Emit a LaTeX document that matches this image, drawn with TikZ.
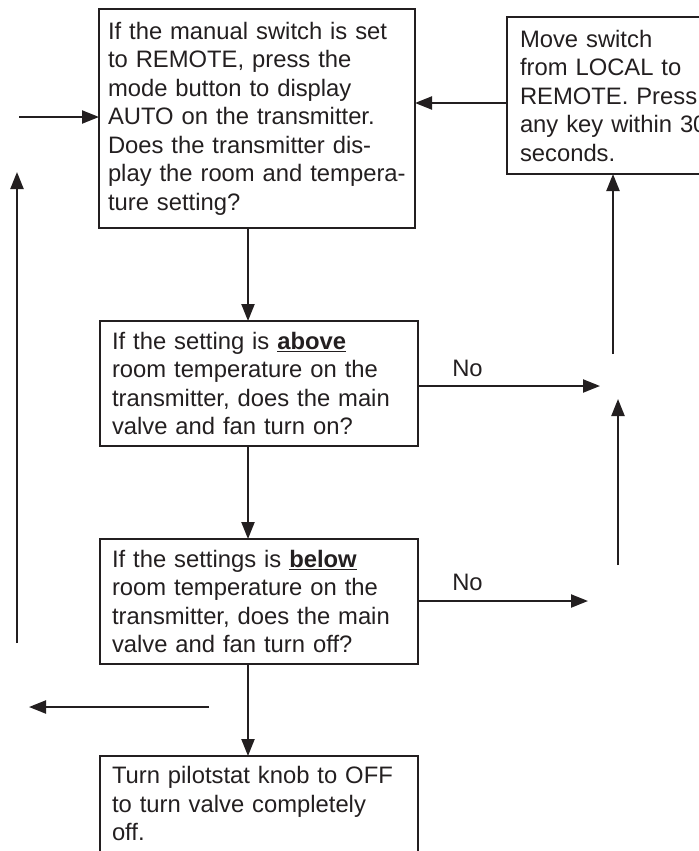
\documentclass[tikz,border=0pt]{standalone}
\usepackage{fontspec}
\setmainfont{Liberation Sans}
\usetikzlibrary{arrows.meta}
\definecolor{ink}{RGB}{35,31,32}
\begin{document}
\begin{tikzpicture}[x=1bp,y=-1bp,
  box/.style={draw=ink, line width=2.5bp, outer sep=0pt, align=left, anchor=north west,
    font=\fontsize{23.8bp}{28.5bp}\selectfont, text=ink},
  arr/.style={draw=ink, line width=2.2bp, -{Triangle[length=17bp,width=13bp]}},
  lbl/.style={font=\fontsize{23.8bp}{28.5bp}\selectfont, text=ink, anchor=base, inner sep=0pt}]
\useasboundingbox (0,0) rectangle (699,851);
\clip (0,0) rectangle (699,851);

\node[box, text width=298bp, inner xsep=9bp, minimum height=219bp] (b1) at (99,9)
  {\mbox{If the manual switch is set}\\\mbox{to REMOTE, press the}\\\mbox{mode button to display}\\\mbox{AUTO on the transmitter.}\\\mbox{Does the transmitter dis-}\\\mbox{play the room and tempera-}\\\mbox{ture setting?}};
\node[box, text width=195bp, inner xsep=13bp, minimum height=157bp] (b2) at (507,17)
  {Move switch\\from LOCAL to\\REMOTE. Press\\\mbox{any key within 30}\\seconds.};
\node[box, text width=294bp, inner xsep=12bp, minimum height=125bp] (b3) at (100,321)
  {If the setting is \underline{\textbf{above}}\\room temperature on the\\\mbox{transmitter, does the main}\\valve and fan turn on?};
\node[box, text width=294bp, inner xsep=12bp, minimum height=125bp] (b4) at (100,539)
  {If the settings is \underline{\textbf{below}}\\room temperature on the\\\mbox{transmitter, does the main}\\valve and fan turn off?};
\node[box, text width=294bp, inner xsep=12bp, inner ysep=10.5bp] (b5) at (100,756)
  {\mbox{Turn pilotstat knob to OFF}\\to turn valve completely\\off.\\\rule{0pt}{40bp}};

\node[lbl] (no1lbl) at (467.5,376) {No};
\node[lbl] (no2lbl) at (467.5,590) {No};

\coordinate (cx) at (248,0);
\coordinate (m) at (0,103);
\coordinate (inL) at (19,117);
\coordinate (leftBot) at (17,643);
\coordinate (leftTop) at (17,172);
\coordinate (no1) at (600,386);
\coordinate (ruBot) at (613,354);
\coordinate (rlBot) at (618,565);
\coordinate (rlTop) at (618,399);
\coordinate (no2) at (588,601);
\coordinate (outR) at (209,707);
\coordinate (outL) at (29,707);

\draw[arr] (b2.west |- m) -- (b1.east |- m);
\draw[arr] (inL) -- (inL -| b1.west);
\draw[arr] (leftBot) -- (leftTop);
\draw[arr] (b1.south -| cx) -- (b3.north -| cx);
\draw[arr] (b3.east |- no1) -- (no1);
\draw[arr] (ruBot) -- (ruBot |- b2.south);
\draw[arr] (rlBot) -- (rlTop);
\draw[arr] (b4.east |- no2) -- (no2);
\draw[arr] (b3.south -| cx) -- (b4.north -| cx);
\draw[arr] (b4.south -| cx) -- (b5.north -| cx);
\draw[arr] (outR) -- (outL);
\end{tikzpicture}
\end{document}
